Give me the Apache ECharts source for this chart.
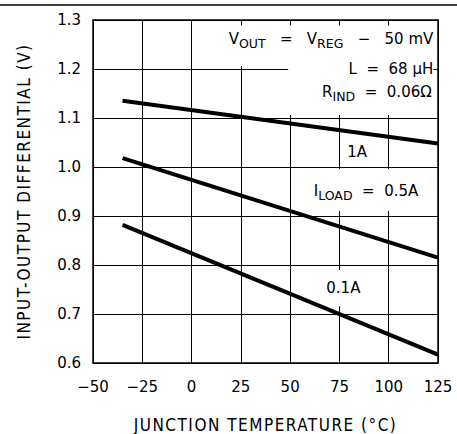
<!DOCTYPE html>
<html><head><meta charset="utf-8">
<script src="https://cdn.jsdelivr.net/npm/echarts@6/dist/echarts.min.js"></script>
<style>
html,body{margin:0;padding:0;background:#fff;overflow:hidden}
#c{width:457px;height:434px}
#c text[style*="Condensed"], #c text[font-family*="Condensed"]{letter-spacing:1.5px}
</style>
</head><body><div id="c"></div>
<script>
const temps = [-35, 125];
const load1A = [1.135, 1.048];
const load05A = [1.018, 0.815];
const load01A = [0.882, 0.617];
const xTitle = 'JUNCTION TEMPERATURE (°C)';
const yTitle = 'INPUT-OUTPUT DIFFERENTIAL (V)';

const FONT = "'DejaVu Sans', sans-serif";
const TFONT = "'DejaVu Sans Condensed', 'Liberation Sans Narrow', sans-serif";
const chart = echarts.init(document.getElementById('c'), null, { renderer: 'svg' });
const pair = (xs, ys) => xs.map((x, i) => [x, ys[i]]);
const lineSeries = (name, ys) => ({
  name, type: 'line', data: pair(temps, ys), symbol: 'none', z: 5,
  lineStyle: { color: '#000', width: 4 }
});
const common = { type: 'value', min: -50, max: 125, interval: 25 };
chart.setOption({
  animation: false,
  grid: { left: 93, right: 19, top: 20, bottom: 71, containLabel: false, outerBoundsMode: 'none' },
  xAxis: [{
    ...common, position: 'bottom',
    name: xTitle, nameLocation: 'middle', nameGap: 53,
    nameTextStyle: { fontSize: 17, fontFamily: TFONT, color: '#000' },
    axisLine: { show: true, onZero: false, lineStyle: { color: '#000', width: 1.5 } },
    axisTick: { show: false },
    axisLabel: { fontSize: 15, fontFamily: FONT, color: '#000', margin: 16,
      formatter: v => (v < 0 ? '\u2212' + Math.abs(v) : String(v)) },
    splitLine: { show: true, lineStyle: { color: '#000', width: 1 } }
  }, {
    ...common, position: 'top',
    axisLine: { show: true, onZero: false, lineStyle: { color: '#000', width: 1.5 } },
    axisTick: { show: true, inside: true, length: 5, lineStyle: { color: '#000' } },
    axisLabel: { show: false }, splitLine: { show: false }
  }],
  yAxis: [{
    type: 'value', min: 0.6, max: 1.3, interval: 0.1, position: 'left',
    name: yTitle, nameLocation: 'middle', nameGap: 61, nameRotate: 90,
    nameTextStyle: { fontSize: 17, fontFamily: TFONT, color: '#000' },
    axisLine: { show: true, onZero: false, lineStyle: { color: '#000', width: 1.5 } },
    axisTick: { show: false },
    axisLabel: { fontSize: 15, fontFamily: FONT, color: '#000', margin: 12, formatter: v => v.toFixed(1) },
    splitLine: { show: true, lineStyle: { color: '#000', width: 1 } }
  }, {
    type: 'value', min: 0.6, max: 1.3, interval: 0.1, position: 'right',
    axisLine: { show: true, onZero: false, lineStyle: { color: '#000', width: 1.5 } },
    axisTick: { show: true, inside: true, length: 5, lineStyle: { color: '#000' } },
    axisLabel: { show: false }, splitLine: { show: false }
  }],
  series: [
    lineSeries('1A', load1A),
    lineSeries('0.5A', load05A),
    lineSeries('0.1A', load01A)
  ]
});

// annotation boxes (white, covering grid) in data coordinates: [x0, y0, x1, y1]
const boxes = [
  [12, 1.289, 122.6, 1.206],
  [49, 1.212, 122.6, 1.106],
  [76, 1.051, 91, 1.010],
  [51, 0.996, 122.6, 0.910],
  [55.5, 0.790, 97.5, 0.716]
];
const NB = '\u00a0';
const rich = {
  m: { fontSize: 15, fontFamily: FONT, fill: '#000' },
  s: { fontSize: 12.5, fontFamily: FONT, fill: '#000', padding: [9, 0, 0, 0] }
};
// texts: [x, y, align, rich string]
const notes = [
  [122.6, 1.262, 'right', `{m|V}{s|OUT}{m|${NB.repeat(3)}=${NB.repeat(3)}V}{s|REG}{m|${NB.repeat(3)}\u2212${NB.repeat(3)}50${NB}mV}`],
  [122.6, 1.2, 'right', `{m|L${NB.repeat(2)}=${NB.repeat(2)}68${NB}\u00b5H}`],
  [121.8, 1.153, 'right', `{m|R}{s|IND}{m|${NB.repeat(2)}=${NB.repeat(2)}0.06\u03a9}`],
  [84, 1.031, 'center', '{m|1A}'],
  [88.5, 0.952, 'center', `{m|I}{s|LOAD}{m|${NB.repeat(2)}=${NB.repeat(2)}0.5A}`],
  [77, 0.753, 'center', '{m|0.1A}']
];
const px = p => chart.convertToPixel({ xAxisIndex: 0, yAxisIndex: 0 }, p);
const g = [{ type: 'line', z: 1, shape: { x1: 0, y1: 5, x2: 457, y2: 5 }, style: { stroke: '#000', lineWidth: 1.5 } }];
boxes.forEach(b => {
  const a = px([b[0], b[1]]), c = px([b[2], b[3]]);
  g.push({ type: 'rect', z: 1, shape: { x: a[0], y: a[1], width: c[0] - a[0], height: c[1] - a[1] },
    style: { fill: '#fff' }, silent: true });
});
notes.forEach(n => {
  const p = px([n[0], n[1]]);
  g.push({ type: 'text', z: 11, x: p[0], y: p[1], silent: true,
    style: { text: n[3], rich, align: n[2], verticalAlign: 'middle', fontSize: 15, fontFamily: FONT, fill: '#000' } });
});
chart.setOption({ graphic: g });
</script></body></html>
